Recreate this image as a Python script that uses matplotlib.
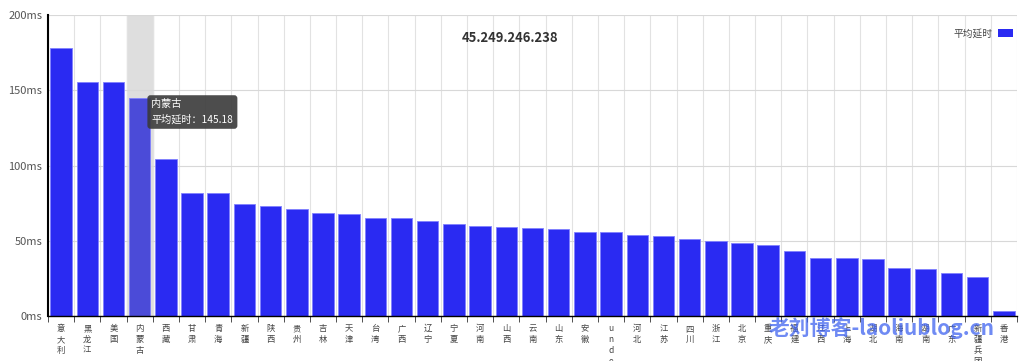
import numpy as np
import matplotlib.pyplot as plt
from matplotlib.patches import Rectangle

plt.rcParams['font.family'] = ['Noto Sans CJK SC', 'DejaVu Sans']

regions = ['意大利', '黑龙江', '美国', '内蒙古', '西藏', '甘肃', '青海', '新疆', '陕西', '贵州',
           '吉林', '天津', '台湾', '广西', '辽宁', '宁夏', '河南', '山西', '云南', '山东',
           '安徽', 'undefined', '河北', '江苏', '四川', '浙江', '北京', '重庆', '福建', '江西',
           '上海', '湖北', '海南', '湖南', '广东', '新疆兵团', '香港']
latency = [178, 155.5, 155.5, 145.18, 104.3, 81.7, 81.7, 74.4, 73, 71,
           68.4, 67.8, 65, 65, 63, 61, 60, 59, 58.5, 58,
           56, 56, 54, 53, 51, 50, 48.5, 47, 43, 38.5,
           38.5, 38, 32, 31.5, 28.5, 26, 3.5]
yticks = [0, 50, 100, 150, 200]
highlight = 3

fig = plt.figure(figsize=(10.24, 3.61), dpi=100)
ax = fig.add_axes([48 / 1024, 1 - 316 / 361, 969 / 1024, 301 / 361])

x = np.arange(len(regions))
colors = ['#2a2af2'] * len(regions)
colors[highlight] = '#4b4bd8'
ax.axvspan(highlight - 0.5, highlight + 0.5, color='#dedede', zorder=0)
ax.bar(x, latency, width=0.82, color=colors, edgecolor='#8080ff', linewidth=0.6, zorder=2)

ax.set_xlim(-0.5, len(regions) - 0.5)
ax.set_ylim(0, 200)
ax.set_yticks(yticks)
ax.set_yticklabels([f'{v}ms' for v in yticks], color='#555555', fontsize=8)
ax.set_xticks(x)
ax.set_xticklabels(['\n'.join(r) for r in regions], fontsize=6, color='#444444',
                   linespacing=1.25, va='top')
ax.set_xticks(np.arange(-0.5, len(regions)), minor=True)
ax.tick_params(axis='x', which='major', length=0, pad=6)
ax.tick_params(axis='x', which='minor', length=4, color='#333333')
ax.tick_params(axis='y', length=0, pad=4)
ax.grid(axis='y', color='#d8d8d8', linewidth=0.8, zorder=0)
ax.grid(axis='x', which='minor', color='#e2e2e2', linewidth=0.8, zorder=0)
ax.set_axisbelow(True)
for s in ['top', 'right']:
    ax.spines[s].set_visible(False)
ax.spines['left'].set_linewidth(1.5)
ax.spines['bottom'].set_linewidth(1.0)

# tooltip
ax.text(highlight + 0.45, 144, f'{regions[highlight]}\n平均延时：{latency[highlight]}',
        color='white', fontsize=7.3, va='top', ha='left', linespacing=1.6, zorder=5,
        bbox=dict(boxstyle='round,pad=0.4,rounding_size=0.3', facecolor='#3a3a3a',
                  edgecolor='none', alpha=0.9))

# legend
handle = Rectangle((0, 0), 1, 1, facecolor='#2a2af2', edgecolor='none')
ax.legend([handle], ['平均延时'], loc='upper right', bbox_to_anchor=(1.005, 0.985),
          frameon=False, markerfirst=False, fontsize=7, handlelength=1.6,
          handleheight=1.0, handletextpad=0.5, labelcolor='#444444')

fig.text(510 / 1024, 1 - 38 / 361, '45.249.246.238', ha='center', va='center',
         fontsize=9.4, fontweight='bold', color='#333333')
fig.text(882 / 1024, 1 - 328 / 361, '老刘博客-laoliublog.cn', ha='center', va='center',
         fontsize=15, fontweight='bold', color='#3f63f0', alpha=0.75, zorder=10)

fig.savefig('out.png', dpi=100)
